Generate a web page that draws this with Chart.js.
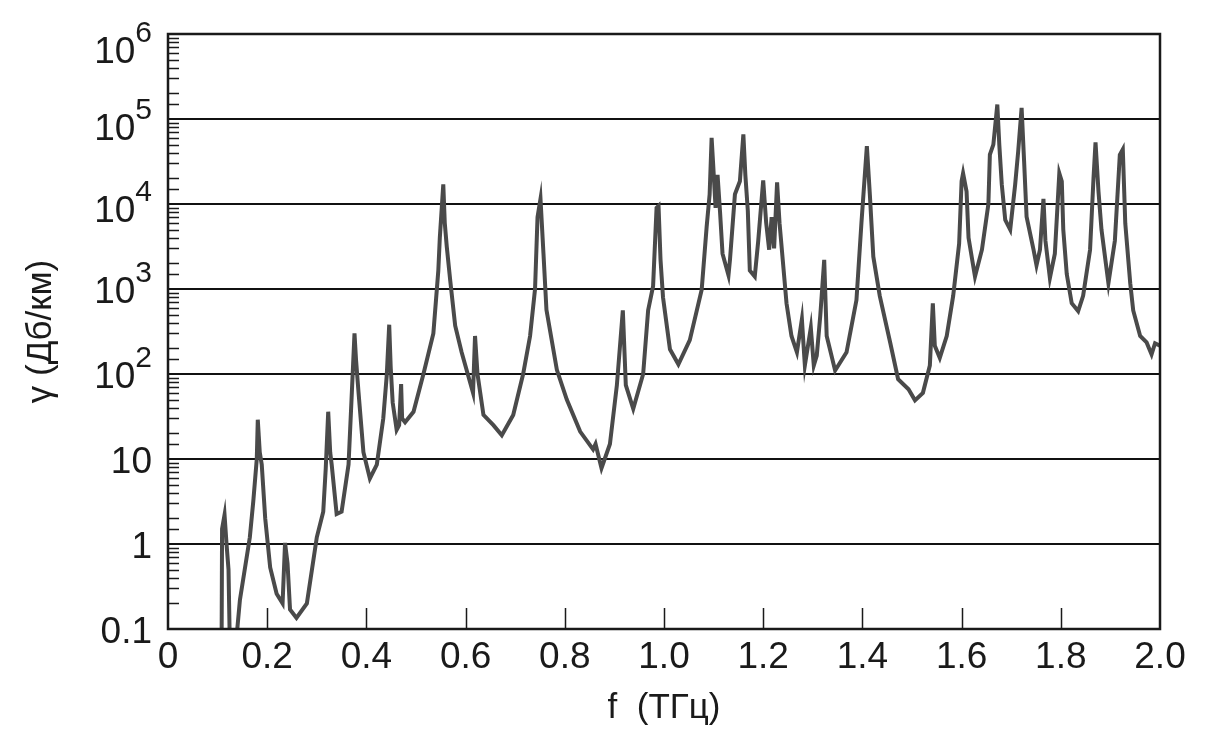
<!DOCTYPE html>
<html>
<head>
<meta charset="utf-8">
<script src="https://cdn.jsdelivr.net/npm/chart.js@4/dist/chart.umd.min.js"></script>
<style>
  body { margin: 0; background: #fff; }
  #wrap { width: 1209px; height: 729px; }
</style>
</head>
<body>
<div id="wrap"><canvas id="gammaChart"></canvas></div>
<script>
// frequency, THz
const freq = [
  0.105, 0.108, 0.109, 0.114, 0.118, 0.122, 0.125, 0.135, 0.145, 0.165,
  0.172, 0.179, 0.181, 0.185, 0.189, 0.196, 0.206, 0.219, 0.231, 0.236,
  0.241, 0.246, 0.259, 0.280, 0.300, 0.313, 0.318, 0.323, 0.327, 0.330,
  0.340, 0.350, 0.364, 0.370, 0.376, 0.379, 0.384, 0.394, 0.407, 0.421,
  0.434, 0.441, 0.446, 0.449, 0.453, 0.461, 0.466, 0.470, 0.472, 0.478,
  0.495, 0.515, 0.535, 0.545, 0.548, 0.555, 0.558, 0.562, 0.569, 0.579,
  0.592, 0.609, 0.615, 0.619, 0.624, 0.636, 0.656, 0.673, 0.696, 0.716,
  0.730, 0.740, 0.745, 0.751, 0.757, 0.763, 0.784, 0.804, 0.831, 0.857,
  0.862, 0.874, 0.891, 0.905, 0.917, 0.923, 0.938, 0.958, 0.968, 0.978,
  0.985, 0.989, 0.993, 0.998, 1.012, 1.029, 1.052, 1.076, 1.086, 1.092,
  1.096, 1.099, 1.104, 1.108, 1.113, 1.118, 1.130, 1.133, 1.143, 1.153,
  1.160, 1.164, 1.169, 1.173, 1.183, 1.190, 1.200, 1.206, 1.212, 1.217,
  1.222, 1.228, 1.233, 1.247, 1.257, 1.268, 1.278, 1.284, 1.296, 1.302,
  1.308, 1.315, 1.323, 1.328, 1.345, 1.368, 1.388, 1.398, 1.409, 1.415,
  1.422, 1.435, 1.456, 1.472, 1.493, 1.506, 1.522, 1.536, 1.542, 1.546,
  1.556, 1.570, 1.583, 1.595, 1.600, 1.603, 1.610, 1.614, 1.627, 1.641,
  1.654, 1.657, 1.664, 1.672, 1.676, 1.681, 1.688, 1.698, 1.708, 1.714,
  1.721, 1.726, 1.731, 1.745, 1.751, 1.758, 1.765, 1.769, 1.778, 1.788,
  1.797, 1.802, 1.805, 1.812, 1.822, 1.835, 1.845, 1.859, 1.866, 1.870,
  1.876, 1.882, 1.896, 1.909, 1.919, 1.925, 1.930, 1.940, 1.946, 1.960,
  1.973, 1.983, 1.990, 2.000
];

// attenuation, dB/km
const gamma = [
  0.05, 0.05, 1.5, 2.2, 1.0, 0.5, 0.05, 0.05, 0.22, 1.2,
  3.2, 10, 29, 12, 8.6, 2.0, 0.53, 0.26, 0.20, 1.03,
  0.59, 0.17, 0.135, 0.20, 1.2, 2.4, 7.7, 36, 12, 8.6,
  2.25, 2.4, 8.6, 50, 300, 150, 62, 12, 5.9, 8.6,
  30, 96, 380, 120, 46, 22, 25, 76, 30, 27,
  36, 100, 300, 1650, 4000, 17000, 6000, 3160, 1260, 370,
  180, 80, 60, 280, 100, 33, 25, 19, 33, 100,
  280, 1000, 7000, 11500, 2600, 570, 112, 50, 21, 13,
  15, 7.8, 15, 74, 560, 74, 39, 100, 560, 1080,
  9000, 9500, 2200, 800, 195, 130, 250, 980, 5400, 13000,
  60000, 30000, 9000, 22000, 8000, 2600, 1450, 2200, 13000, 18500,
  66000, 22000, 8300, 1650, 1400, 3700, 19000, 6000, 2900, 7000,
  3000, 18000, 5900, 680, 280, 180, 440, 126, 350, 126,
  165, 480, 2200, 280, 110, 180, 740, 5900, 48000, 13000,
  2400, 830, 235, 87, 66, 49, 60, 126, 680, 215,
  155, 280, 830, 3400, 18500, 23000, 14000, 4000, 1400, 2900,
  10000, 38000, 50000, 148000, 50000, 17000, 6500, 5000, 17000, 41000,
  135000, 32000, 7100, 2900, 1900, 2900, 11500, 3700, 1350, 2600,
  23000, 18500, 5000, 1500, 680, 550, 830, 2900, 20500, 53000,
  14000, 5000, 1170, 3700, 38000, 44000, 5900, 1170, 560, 280,
  235, 170, 230, 215
];

// y tick labels: base and exponent
const yLabelValues = [0.1, 1, 10, 100, 1000, 10000, 100000, 1000000];
const yLabelBase = ["0.1", "1", "10", "10", "10", "10", "10", "10"];
const yLabelExp = ["", "", "", "2", "3", "4", "5", "6"];

const FONT = "'Liberation Sans', Arial, sans-serif";

function isDecade(v) {
  const l = Math.log10(v);
  return Math.abs(l - Math.round(l)) < 1e-9;
}

// frame, inward ticks and the y labels with raised exponents
const framePlugin = {
  id: "frame",
  afterDraw(chart) {
    const ctx = chart.ctx;
    const area = chart.chartArea;
    const xs = chart.scales.x;
    const ys = chart.scales.y;
    ctx.save();
    ctx.strokeStyle = "#1a1a1a";
    ctx.lineWidth = 1.5;

    // minor ticks on the left axis
    ctx.beginPath();
    ys.ticks.forEach((t) => {
      if (isDecade(t.value)) return;
      const py = Math.round(ys.getPixelForValue(t.value)) + 0.5;
      ctx.moveTo(area.left, py);
      ctx.lineTo(area.left + 11, py);
    });
    // x ticks every 0.2, pointing up
    for (let k = 1; k < 10; k++) {
      const px = Math.round(xs.getPixelForValue(k * 0.2)) + 0.5;
      ctx.moveTo(px, area.bottom);
      ctx.lineTo(px, area.bottom - 21);
    }
    ctx.stroke();

    ctx.lineWidth = 2.5;
    ctx.strokeRect(area.left, area.top, area.right - area.left, area.bottom - area.top);

    // y labels
    const shift = { 1000000: 16, 100000: 8, 10000: 5 };
    ctx.fillStyle = "#1a1a1a";
    ctx.textAlign = "right";
    ctx.textBaseline = "alphabetic";
    yLabelValues.forEach((v, i) => {
      const py = ys.getPixelForValue(v) + (shift[v] || 1) + 13;
      let right = 152;
      if (yLabelExp[i]) {
        ctx.font = "30px " + FONT;
        ctx.fillText(yLabelExp[i], right, py - 21);
        right -= ctx.measureText(yLabelExp[i]).width;
      }
      ctx.font = "37px " + FONT;
      ctx.fillText(yLabelBase[i], right, py);
    });
    ctx.restore();
  },
};

function plotGamma() {
  const points = freq.map((f, i) => ({ x: f, y: gamma[i] }));
  let ctx = document.getElementById("gammaChart").getContext("2d");

  const config = {
    type: "line",
    data: {
      datasets: [
        {
          data: points,
          borderColor: "#4a4a4a",
          borderWidth: 4,
          pointRadius: 0,
          tension: 0,
          fill: false,
          clip: 0,
        },
      ],
    },
    options: {
      responsive: true,
      maintainAspectRatio: false,
      animation: false,
      layout: {
        padding: { left: 0, right: 49, top: 34, bottom: 0 },
      },
      plugins: {
        legend: { display: false },
        tooltip: { enabled: false },
      },
      scales: {
        x: {
          type: "linear",
          min: 0,
          max: 2,
          afterFit: (scale) => {
            scale.height = 100;
          },
          afterBuildTicks: (scale) => {
            scale.ticks = [];
            for (let k = 0; k <= 10; k++) scale.ticks.push({ value: k * 0.2 });
          },
          ticks: {
            autoSkip: false,
            maxRotation: 0,
            padding: 7,
            color: "#1a1a1a",
            font: { family: FONT, size: 37 },
            callback: (v) => (v === 0 ? "0" : v.toFixed(1)),
          },
          grid: { drawOnChartArea: false, drawTicks: false },
          border: { display: false },
          title: {
            display: true,
            text: "f  (ТГц)",
            color: "#1a1a1a",
            font: { family: FONT, size: 35 },
            padding: { top: 0, bottom: 0 },
          },
        },
        y: {
          type: "logarithmic",
          min: 0.1,
          max: 1000000,
          afterFit: (scale) => {
            scale.width = 168;
          },
          ticks: { display: false },
          grid: {
            drawTicks: false,
            color: (c) => (c.tick && isDecade(c.tick.value) ? "#111" : "rgba(0,0,0,0)"),
            lineWidth: 2,
          },
          border: { display: false },
          title: {
            display: true,
            text: "γ (Дб/км)",
            color: "#1a1a1a",
            font: { family: FONT, size: 35 },
            padding: { top: 20, bottom: 0 },
          },
        },
      },
    },
    plugins: [framePlugin],
  };
  new Chart(ctx, config);
}

plotGamma();
</script>
</body>
</html>
